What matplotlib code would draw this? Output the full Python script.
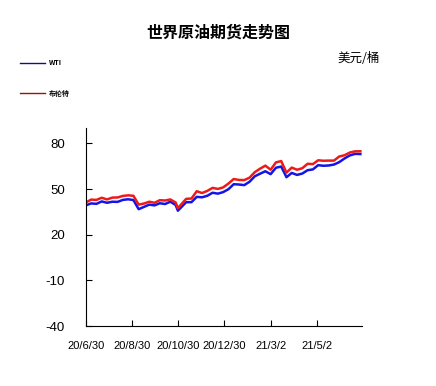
import numpy as np
import pandas as pd
import matplotlib
matplotlib.use("Agg")
from matplotlib import pyplot as plt

plt.rcParams['font.family'] = ['Liberation Sans', 'Noto Sans CJK SC', 'DejaVu Sans']
plt.rcParams['axes.unicode_minus'] = False

dates = [
    "2020-06-30", "2020-07-07", "2020-07-14", "2020-07-21", "2020-07-28",
    "2020-08-04", "2020-08-11", "2020-08-18", "2020-08-25", "2020-09-01",
    "2020-09-08", "2020-09-15", "2020-09-22", "2020-09-29", "2020-10-06",
    "2020-10-13", "2020-10-20", "2020-10-27", "2020-10-30", "2020-11-10",
    "2020-11-17", "2020-11-24", "2020-12-01", "2020-12-08", "2020-12-15",
    "2020-12-22", "2020-12-29", "2021-01-05", "2021-01-12", "2021-01-19",
    "2021-01-26", "2021-02-02", "2021-02-09", "2021-02-16", "2021-02-23",
    "2021-03-02", "2021-03-09", "2021-03-16", "2021-03-23", "2021-03-30",
    "2021-04-06", "2021-04-13", "2021-04-20", "2021-04-27", "2021-05-04",
    "2021-05-11", "2021-05-18", "2021-05-25", "2021-06-01", "2021-06-08",
    "2021-06-15", "2021-06-22", "2021-06-29",
]
wti = [
    39.3, 40.6, 40.3, 41.9, 41.0, 41.7, 41.6, 42.9, 43.3, 42.8,
    36.8, 38.3, 39.8, 39.3, 40.7, 40.2, 41.7, 39.6, 35.8, 41.4,
    41.4, 44.9, 44.6, 45.6, 47.6, 47.0, 48.0, 49.9, 53.2, 53.0,
    52.6, 54.8, 58.4, 60.1, 61.7, 59.8, 64.0, 64.8, 57.8, 60.6,
    59.3, 60.2, 62.4, 62.9, 65.7, 65.3, 65.5, 66.1, 67.7, 70.1,
    72.1, 73.1, 73.0,
]
brent = [
    41.2, 43.1, 42.9, 44.3, 43.2, 44.4, 44.5, 45.5, 45.9, 45.6,
    39.8, 40.5, 41.7, 41.0, 42.7, 42.5, 43.2, 41.2, 37.5, 43.6,
    43.8, 48.6, 47.4, 48.8, 50.8, 50.1, 51.1, 53.6, 56.6, 56.0,
    55.9, 57.5, 61.1, 63.4, 65.4, 62.7, 67.5, 68.4, 60.8, 64.1,
    62.7, 63.7, 66.6, 66.4, 68.9, 68.6, 68.7, 68.7, 71.4, 72.2,
    74.0, 74.8, 74.8,
]
tick_dates = ["2020-06-30", "2020-08-30", "2020-10-30", "2020-12-30", "2021-03-02", "2021-05-02"]
tick_labels = ["20/6/30", "20/8/30", "20/10/30", "20/12/30", "21/3/2", "21/5/2"]
y_ticks = [-40, -10, 20, 50, 80]

x = pd.to_datetime(dates)

fig = plt.figure(figsize=(4.36, 3.86), dpi=100)
ax = fig.add_axes([0.197, 0.155, 0.633, 0.513])

ax.plot(x, wti, color="#1414e6", lw=1.8)
ax.plot(x, brent, color="#ee1a1a", lw=1.8)

ax.set_ylim(-40, 90)
ax.set_xlim(pd.Timestamp("2020-06-30"), pd.Timestamp("2021-07-01"))
ax.set_yticks(y_ticks)
ax.set_xticks(pd.to_datetime(tick_dates))
ax.set_xticklabels(tick_labels, fontsize=8)
ax.tick_params(axis="y", direction="in", length=4, pad=15, labelsize=9.5)
ax.tick_params(axis="x", direction="in", length=4, pad=11)
for s in ["top", "right"]:
    ax.spines[s].set_visible(False)

fig.text(0.5, 0.915, "世界原油期货走势图", ha="center", va="center",
         fontsize=11.5, fontweight="bold", family=["Noto Sans CJK SC"])
fig.text(0.775, 0.848, "美元/桶", ha="left", va="center", fontsize=9,
         family=["Noto Sans CJK SC"])

# legend drawn by hand in figure coords
for yy, col, lab in [(0.838, "#101080", "WTI"), (0.758, "#a01010", "布伦特")]:
    fig.add_artist(plt.Line2D([0.045, 0.103], [yy, yy], color=col, lw=1))
    fig.text(0.113, yy, lab, ha="left", va="center", fontsize=5,
             fontweight="bold", family=["Noto Sans CJK SC"])

fig.savefig("out.png", dpi=100)
